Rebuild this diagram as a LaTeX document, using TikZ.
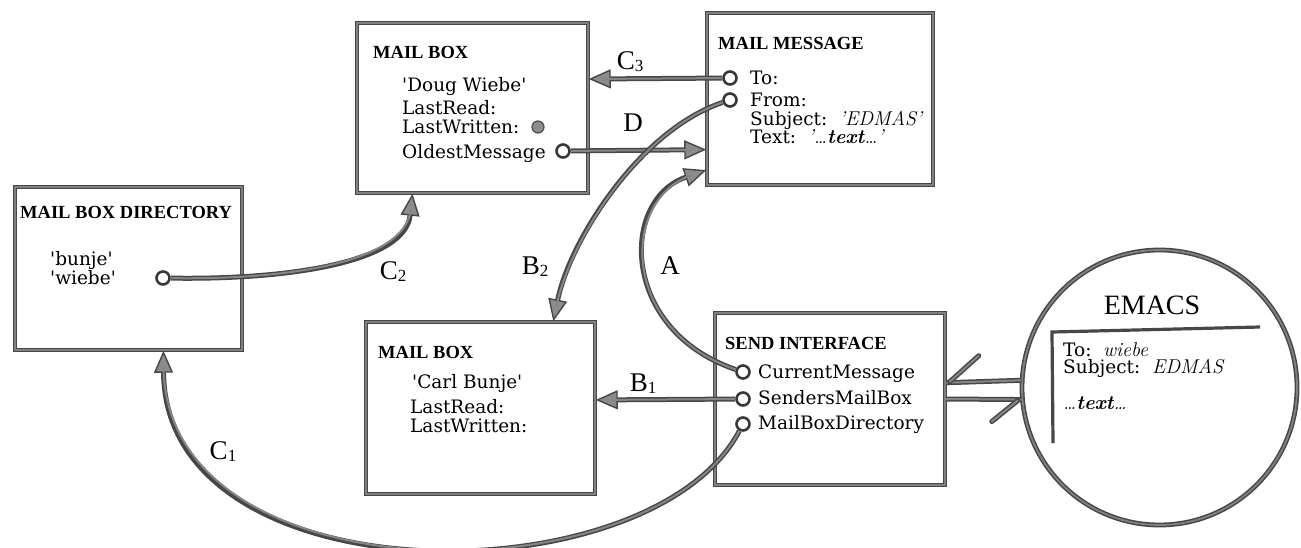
\documentclass[tikz,border=0pt]{standalone}
\usepackage{fontspec}
\usetikzlibrary{arrows.meta,calc}
\newfontfamily\bodyfont{DejaVu Serif}[Ligatures=TeXOff]
\newfontfamily\headfont{Liberation Serif}
\newfontfamily\labelfont{Liberation Serif}
% link label with a subscript index, e.g. C_3
\newcommand\linklabel[2]{#1\raisebox{-2pt}{\fontsize{17}{17}\selectfont #2}}

\begin{document}
\begin{tikzpicture}[x=1pt,y=-1pt,
  box/.style={draw=black!72, double=black!50, double distance=1.8pt, line width=1.5pt, inner sep=0pt},
  head/.style={anchor=west, inner sep=0pt, text height=12.5pt, text depth=0pt,
               font=\headfont\bfseries\fontsize{18.5}{20}\selectfont},
  txt/.style={anchor=west, inner sep=0pt, text height=13pt, text depth=0pt,
              font=\bodyfont\fontsize{18.5}{20}\selectfont},
  lab/.style={inner sep=0pt, text height=18pt, text depth=0pt,
              font=\labelfont\fontsize{27}{30}\selectfont},
  port/.style={circle, draw=black!78, line width=2.6pt, fill=white, inner sep=0pt, minimum size=13pt},
  dot/.style={circle, draw=black!70, line width=1.2pt, fill=black!45, inner sep=0pt, minimum size=12pt},
  wire/.style={draw=black!72, line width=5pt, postaction={draw=black!48, line width=2pt}},
  conn/.style={draw=black!72, line width=5pt,
               -{Triangle[length=22pt,width=19pt,fill=black!45,line width=1.4pt]},
               postaction={draw=black!48, line width=2pt, arrows=-, shorten >=16pt}}
]
\useasboundingbox[fill=white] (0,0) rectangle (1301,547);

% ---------- boxes ----------
\node[box, minimum width=231pt, minimum height=170pt] (mb1) at (472.5,108) {};
\node[box, minimum width=226pt, minimum height=172pt] (mm)  at (820,99) {};
\node[box, minimum width=227pt, minimum height=163pt] (dir) at (128.5,268.5) {};
\node[box, minimum width=229pt, minimum height=172pt] (mb2) at (480.5,408) {};
\node[box, minimum width=230pt, minimum height=172pt] (si)  at (830,399) {};
\node[box, circle, minimum size=275pt] (emacs) at (1159.5,387.5) {};

% ---------- mail box (Doug Wiebe) ----------
\node[head] (mb1t) at (373,52) {MAIL BOX};
\node[txt] (mb1a) at (402,85) {'Doug Wiebe'};
\node[txt] (mb1b) at (402,108) {LastRead:};
\node[txt] (mb1c) at (402,127) {LastWritten:};
\node[txt] (mb1d) at (402,152) {OldestMessage};
\node[dot] (lw) at (538,127) {};
\node[port] (om) at (563,151) {};

% ---------- mail message ----------
\node[head] (mmt) at (718,43) {MAIL MESSAGE};
\node[txt] (mma) at (750,78) {To:};
\node[txt] (mmb) at (750,100) {From:};
\node[txt] (mmc) at (750,119) {Subject:\ \ {\rmfamily\itshape\fontsize{20}{20}\selectfont 'EDMAS'}};
\node[txt] (mmd) at (750,137) {Text:\ \ {\rmfamily\itshape\fontsize{20}{20}\selectfont '\ldots\textbf{text}\ldots'}};
\node[port] (to) at (730,78) {};
\node[port] (from) at (730,100) {};

% ---------- mail box directory ----------
\node[head] (dirt) at (20,212) {MAIL BOX DIRECTORY};
\node[txt] (dira) at (50,259) {'bunje'};
\node[txt] (dirb) at (50,278) {'wiebe'};
\node[port] (wb) at (163,278) {};

% ---------- mail box (Carl Bunje) ----------
\node[head] (mb2t) at (378,352) {MAIL BOX};
\node[txt] (mb2a) at (412,382) {'Carl Bunje'};
\node[txt] (mb2b) at (410,407) {LastRead:};
\node[txt] (mb2c) at (410,426) {LastWritten:};

% ---------- send interface ----------
\node[head] (sit) at (725,343) {SEND INTERFACE};
\node[txt] (sia) at (758,372) {CurrentMessage};
\node[txt] (sib) at (758,398) {SendersMailBox};
\node[txt] (sic) at (758,423) {MailBoxDirectory};
\node[port] (cm) at (743,372) {};
\node[port] (smb) at (743,399) {};
\node[port] (mbd) at (743,424) {};

% ---------- editor window ----------
\node[inner sep=0pt, text height=18.5pt, text depth=0pt,
      font=\headfont\fontsize{28}{30}\selectfont] (emt) at (1152,305) {EMACS};
\draw[draw=black!72, line width=3.2pt] (1260,327) -- (1052,332) -- (1053,443);
\node[txt] (ema) at (1063,350) {To:\ \ {\rmfamily\itshape\fontsize{20}{20}\selectfont wiebe}};
\node[txt] (emb) at (1063,367) {Subject:\ \ {\rmfamily\itshape\fontsize{20}{20}\selectfont EDMAS}};
\node[txt] (emc) at (1063,403) {{\rmfamily\itshape\fontsize{20}{20}\selectfont \ldots\textbf{text}\ldots}};

% ---------- references ----------
\draw[conn] (to) -- (mb1.14.56);
\draw[conn] (om) -- (mm.204.7);
\draw[conn] (smb) -- (mb2.4.5);
\draw[conn] (wb) .. controls (290,280) and (405,262) .. (mb1.235);
\draw[conn] (from) .. controls (640,130) and (570,240) .. (mb2.50.26);
\draw[conn] (cm) .. controls (620,330) and (620,200) .. (mm.212.1);
\draw[conn] (mbd) .. controls (650,600) and (165,600) .. (dir.-67.65);

% messages between the send interface and the editor
\draw[wire] (emacs.177.3) -- (si.8.9);
\draw[wire, line cap=round] ($(si.8.9)+(4,-1)$) -- ++(29,-26);
\draw[wire] (si.-0.5) -- (emacs.185.2);
\draw[wire, line cap=round] ($(emacs.185.2)+(-4,1)$) -- ++(-26,21);

% ---------- link labels ----------
\node[lab] (lc3) at (630,60) {\linklabel{C}{3}};
\node[lab] (ld) at (633,122) {D};
\node[lab] (lb2) at (535,265) {\linklabel{B}{2}};
\node[lab] (la) at (670,265) {A};
\node[lab] (lb1) at (643,382) {\linklabel{B}{1}};
\node[lab] (lc1) at (223,450) {\linklabel{C}{1}};
\node[lab] (lc2) at (393,270) {\linklabel{C}{2}};
\end{tikzpicture}
\end{document}
